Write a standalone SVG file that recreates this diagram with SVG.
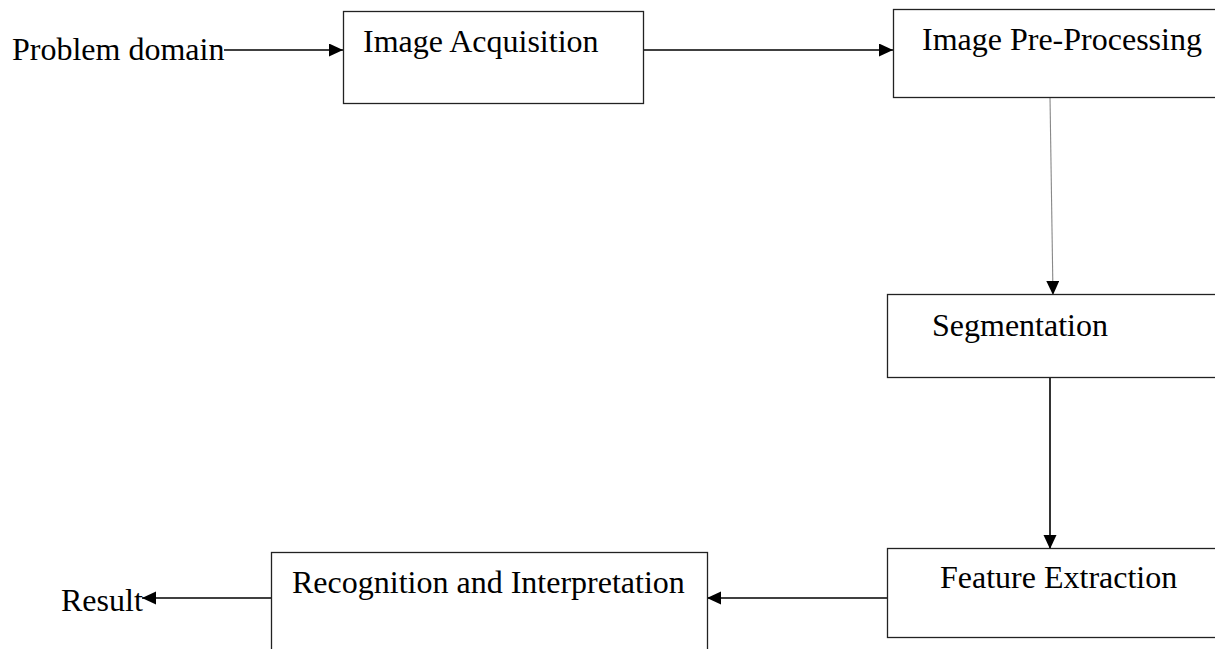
<svg xmlns="http://www.w3.org/2000/svg" width="1215" height="649" viewBox="0 0 1215 649">
<style>
.box{fill:#fff;stroke:#222;stroke-width:1.3}
.t{font-family:"Liberation Serif","Times New Roman",serif;font-size:32px;fill:#000}
.c{stroke:#000;stroke-width:1.6;fill:none}
.g{stroke:#888;stroke-width:1.1;fill:none}
</style>
<defs>
<marker id="ah" markerUnits="userSpaceOnUse" markerWidth="15" markerHeight="14" refX="14" refY="6.5" orient="auto">
<path d="M0,0 L14,6.5 L0,13 z" fill="#000"/>
</marker>
</defs>
<rect width="1215" height="649" fill="#fff"/>
<g id="connectors">
<line class="c" x1="224" y1="50" x2="343" y2="50" marker-end="url(#ah)"/>
<line class="c" x1="644" y1="50" x2="893" y2="50" marker-end="url(#ah)"/>
<line class="g" x1="1050" y1="97" x2="1053" y2="295" marker-end="url(#ah)"/>
<line class="c" x1="1050" y1="377" x2="1050" y2="549" marker-end="url(#ah)"/>
<line class="c" x1="887" y1="598" x2="707" y2="598" marker-end="url(#ah)"/>
<line class="c" x1="271" y1="598" x2="142" y2="598" marker-end="url(#ah)"/>
</g>
<g id="problem-domain"><text class="t" x="12" y="60">Problem domain</text></g>
<g id="image-acquisition">
<rect class="box" x="343.5" y="11.5" width="300" height="92"/>
<text class="t" x="363" y="52">Image Acquisition</text>
</g>
<g id="image-preprocessing">
<rect class="box" x="893.5" y="9.5" width="340" height="88"/>
<text class="t" x="922" y="50">Image Pre-Processing</text>
</g>
<g id="segmentation">
<rect class="box" x="887.5" y="294.5" width="340" height="83"/>
<text class="t" x="932" y="336">Segmentation</text>
</g>
<g id="feature-extraction">
<rect class="box" x="887.5" y="548.5" width="340" height="89"/>
<text class="t" x="940" y="588">Feature Extraction</text>
</g>
<g id="recognition">
<rect class="box" x="271.5" y="552.5" width="436" height="110"/>
<text class="t" x="292" y="593">Recognition and Interpretation</text>
</g>
<g id="result"><text class="t" x="61" y="611">Result</text></g>
</svg>
